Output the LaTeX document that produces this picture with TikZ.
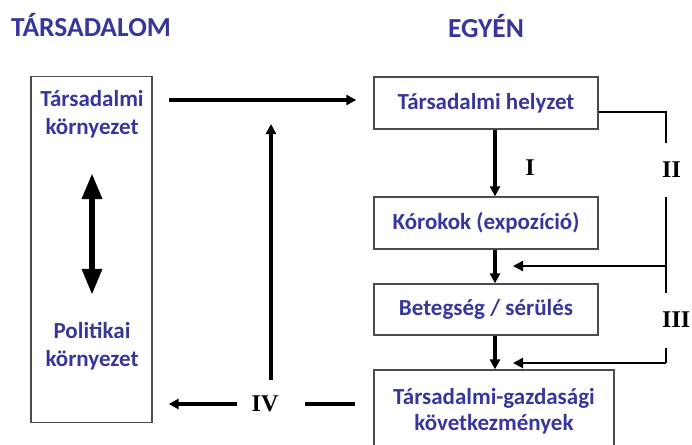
\documentclass[tikz,border=0pt]{standalone}
\usepackage{fontspec}
\setmainfont{Carlito}
\newfontfamily\numfont{Liberation Serif}
\usetikzlibrary{arrows.meta,positioning}
\definecolor{txtblue}{RGB}{55,55,155}

\begin{document}
\begin{tikzpicture}[x=1pt,y=-1pt,
	box/.style={draw=black!70, line width=1.3pt, rectangle, inner sep=0pt,
		text=txtblue, font=\fontsize{23}{26}\selectfont\bfseries, align=center},
	lbl/.style={text=txtblue, inner sep=0pt, font=\fontsize{23}{28}\selectfont\bfseries, align=center},
	ttl/.style={text=txtblue, font=\fontsize{27.5}{30}\selectfont\bfseries},
	num/.style={inner sep=0pt, font=\fontsize{24}{24}\selectfont\numfont\bfseries},
	arr/.style={-{Triangle[length=10pt,width=10pt]}, line width=3.2pt},
	lne/.style={line width=2.2pt}]
	\useasboundingbox (0,0) rectangle (692,444);
	% headings
	\node[ttl] (soc) at (91,25) {TÁRSADALOM};
	\node[ttl] (ind) at (486,26) {EGYÉN};
	% society
	\node[box, minimum width=121pt, minimum height=346pt] (env) at (91.5,249.5) {};
	\node[lbl] (tenv) at (92,114) {Társadalmi\\környezet};
	\node[lbl] (penv) at (92,346) {Politikai\\környezet};
	\draw[{Triangle[length=26pt,width=19pt]}-{Triangle[length=26pt,width=19pt]}, line width=6pt,
		shorten <=35pt, shorten >=27pt] (tenv) -- (penv);
	% individual
	\node[box, minimum width=224pt, minimum height=52pt] (pos) at (486,103) {Társadalmi helyzet};
	\node[box, minimum width=224pt, minimum height=52pt] (cause) at (486,223) {Kórokok (expozíció)};
	\node[box, minimum width=224pt, minimum height=51pt] (ill) at (486,309.5) {Betegség / sérülés};
	\node[box, minimum width=240pt, minimum height=82pt] (cons) at (494,411) {Társadalmi-gazdasági\\következmények};
	\draw[arr] ([xshift=9pt]pos.south) -- ([xshift=9pt]cause.north);
	\draw[arr] ([xshift=9pt]cause.south) -- ([xshift=9pt]ill.north);
	\draw[arr] ([xshift=9pt]ill.south) -- ([xshift=1pt]cons.north);
	\node[num] (n1) at (530,168) {I};
	% paths II and III
	\coordinate (c1) at (666,112);
	\coordinate (c2) at (666,363);
	\coordinate (t2) at (513,266);
	\coordinate (t3) at (513,363);
	\node[num, anchor=west] (n2) at (662,170) {II};
	\node[num, anchor=west] (n3) at (662,320) {III};
	\draw[lne] (pos.east |- c1) -- (c1) -- (666,143);
	\draw[lne] (666,197) -- (666,293);
	\draw[arr, line width=2.2pt] (t2 -| c1) -- (t2);
	\draw[lne] (666,348) -- (c2);
	\draw[arr, line width=2.2pt] (c2) -- (t3);
	% path IV
	\node[num] (n4) at (265,404) {IV};
	\coordinate (up) at (271,124);
	\draw[arr, -] (cons.west |- n4) ++(-18,0) -- (305,404);
	\draw[arr, shorten <=14pt, shorten >=16pt] (n4.west) -- (env.east |- n4);
	\draw[arr] (271,380) -- (up);
	\draw[arr, shorten <=16pt, shorten >=17pt] ([yshift=3pt]env.east |- pos.west) -- ([yshift=3pt]pos.west);
\end{tikzpicture}
\end{document}
